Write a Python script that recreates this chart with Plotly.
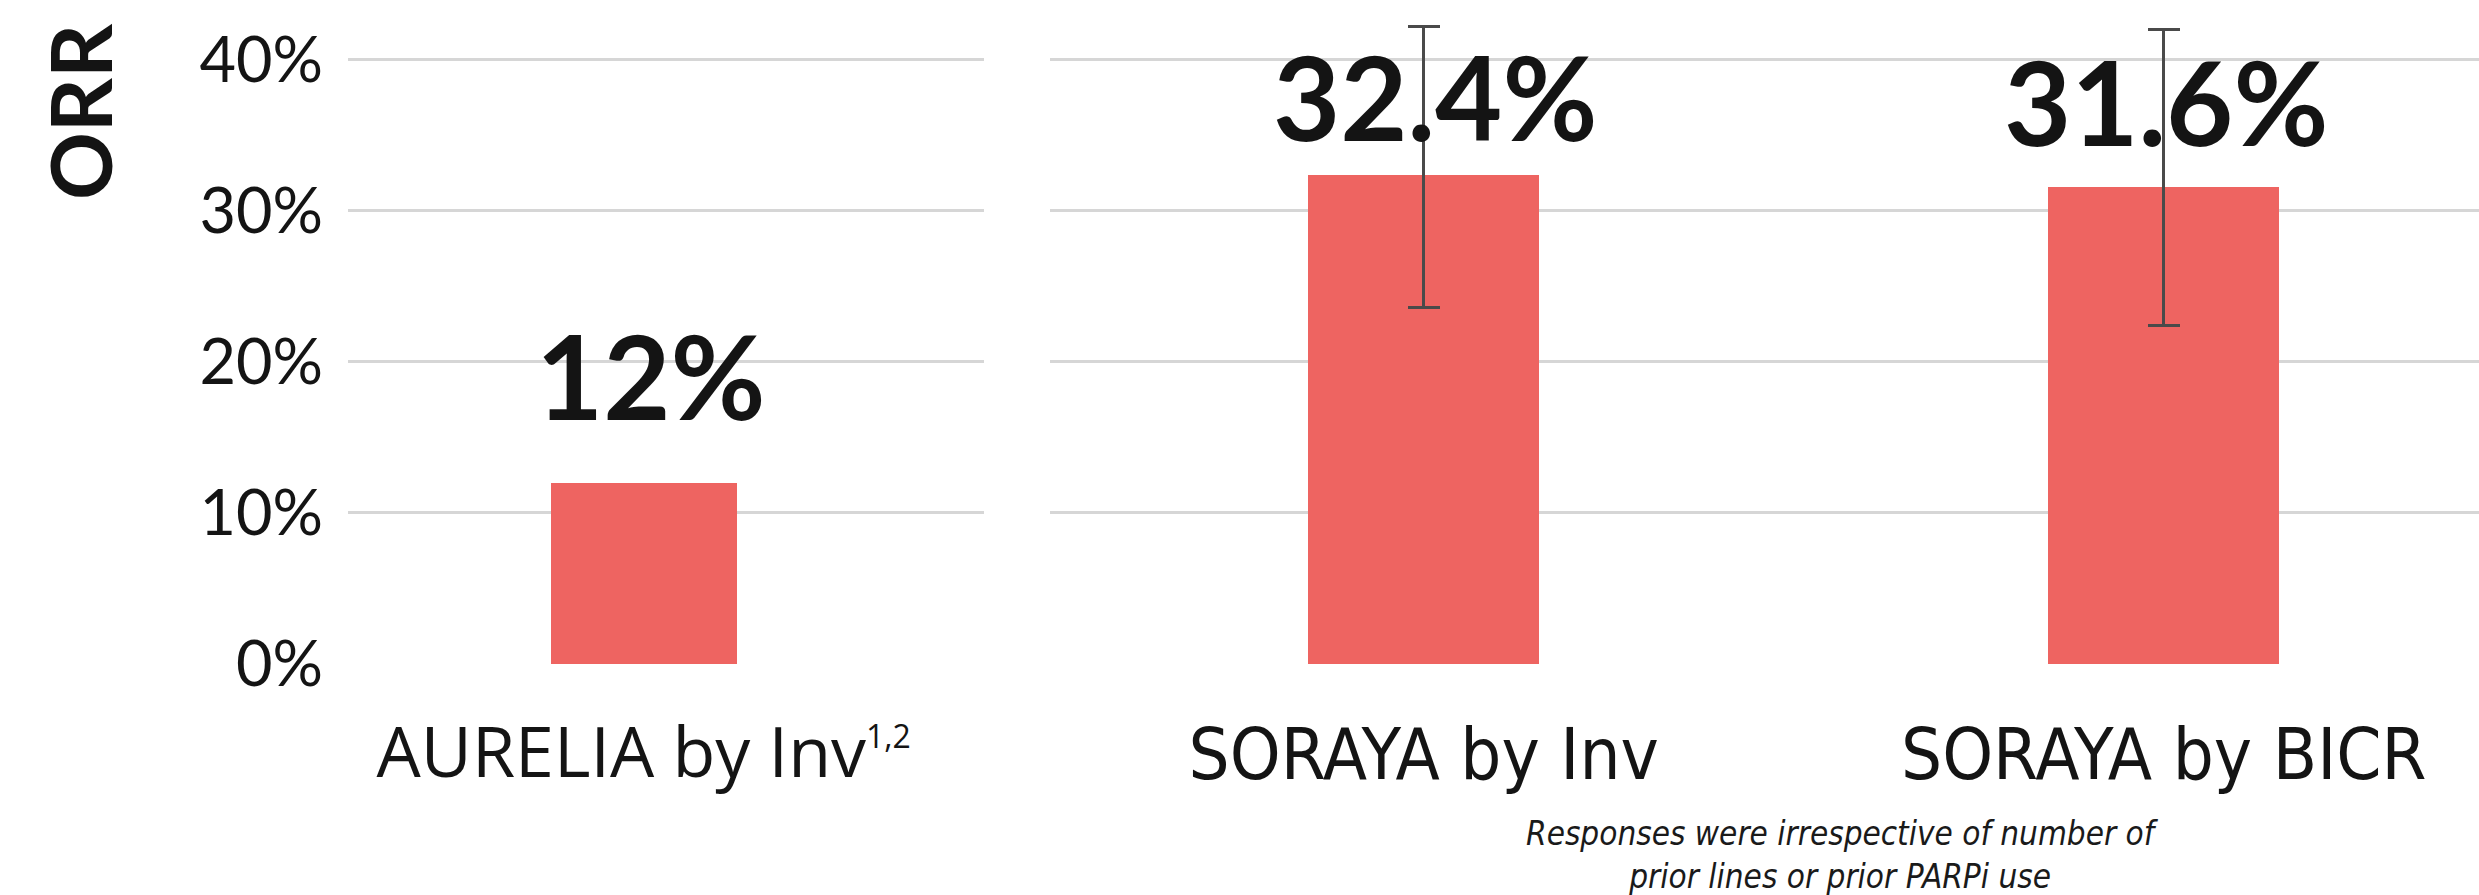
import plotly.graph_objects as go

# ORR by study / assessment
aurelia_cat = ["AURELIA by Inv<sup><span style='font-size:32px'>1,2</span></sup>"]
aurelia_orr = [12]

soraya_cat = ["SORAYA by Inv", "SORAYA by BICR"]
soraya_orr = [32.4, 31.6]
soraya_ci_low = [23.6, 22.4]
soraya_ci_high = [42.2, 42.0]

y_ticks = [0, 10, 20, 30, 40]
y_tick_text = [f"{t}%" for t in y_ticks]

note_text = "Responses were irrespective of number of<br>prior lines or prior PARPi use"

W, H = 2479, 895
BAR = "#EE6461"
GRID = "#d6d6d6"
INK = "#141414"

fig = go.Figure()

fig.add_trace(go.Bar(
    x=aurelia_cat, y=aurelia_orr, xaxis="x", yaxis="y",
    width=0.292, marker=dict(color=BAR, line=dict(width=0)),
    hoverinfo="skip",
))

fig.add_trace(go.Bar(
    x=soraya_cat, y=soraya_orr, xaxis="x2", yaxis="y2",
    width=0.312, marker=dict(color=BAR, line=dict(width=0)),
    error_y=dict(
        type="data", symmetric=False,
        array=[h - v for h, v in zip(soraya_ci_high, soraya_orr)],
        arrayminus=[v - l for v, l in zip(soraya_orr, soraya_ci_low)],
        color="#4a4a4a", thickness=3, width=16,
    ),
    hoverinfo="skip",
))

# value labels above bars
label_style = [
    ("x", "y", aurelia_cat, aurelia_orr, [36], [7]),
    ("x2", "y2", soraya_cat, soraya_orr, [7, 14], [11, 2]),
]
annotations = []
for xr, yr, cats, vals, yshifts, xshifts in label_style:
    for c, v, ys, xs in zip(cats, vals, yshifts, xshifts):
        annotations.append(dict(
            x=c, y=v, xref=xr, yref=yr, text=f"{v:g}%", showarrow=False,
            yanchor="bottom", xanchor="center", yshift=ys, xshift=xs,
            font=dict(family="Lato", size=116, color=INK, weight="bold"),
        ))

# axis title
annotations.append(dict(
    x=80 / W, y=(664 - 112) / 664, xref="paper", yref="paper",
    text="<b>ORR</b>", textangle=-90, showarrow=False,
    xanchor="center", yanchor="middle",
    font=dict(family="Lato", size=84, color=INK),
))

# footnote
annotations.append(dict(
    x=1842 / W, y=(664 - 855) / 664, xref="paper", yref="paper",
    text=f"<i>{note_text}</i>", showarrow=False,
    xanchor="center", yanchor="middle", align="center",
    font=dict(family="DejaVu Sans Condensed, DejaVu Sans", size=33, color="#1a1a1a"),
))

yaxis_common = dict(
    range=[0, 43.97], tickvals=y_ticks, ticktext=y_tick_text,
    showgrid=True, gridcolor=GRID, gridwidth=2.5,
    zeroline=False, showline=False, ticks="",
    domain=[0, 1], fixedrange=True,
)

fig.update_layout(
    width=W, height=H,
    margin=dict(l=0, r=0, t=0, b=231),
    paper_bgcolor="white", plot_bgcolor="white",
    showlegend=False,
    bargap=0,
    xaxis=dict(
        domain=[348 / W, 984 / W], type="category", range=[-0.465, 0.535],
        showgrid=False, zeroline=False, showline=False, ticks="",
        tickfont=dict(family="Open Sans", size=70, color=INK),
        ticklabelstandoff=42, anchor="y",
    ),
    xaxis2=dict(
        domain=[1050 / W, 1], type="category", range=[-0.505, 1.426],
        showgrid=False, zeroline=False, showline=False, ticks="",
        tickfont=dict(family="DejaVu Sans Condensed, DejaVu Sans", size=72, color=INK),
        ticklabelstandoff=42, anchor="y2",
    ),
    yaxis=dict(
        **yaxis_common, anchor="x",
        tickfont=dict(family="Lato", size=63, color=INK),
        ticklabelstandoff=24,
    ),
    yaxis2=dict(**yaxis_common, anchor="x2", showticklabels=False),
    annotations=annotations,
)

fig.write_html("out.html")
